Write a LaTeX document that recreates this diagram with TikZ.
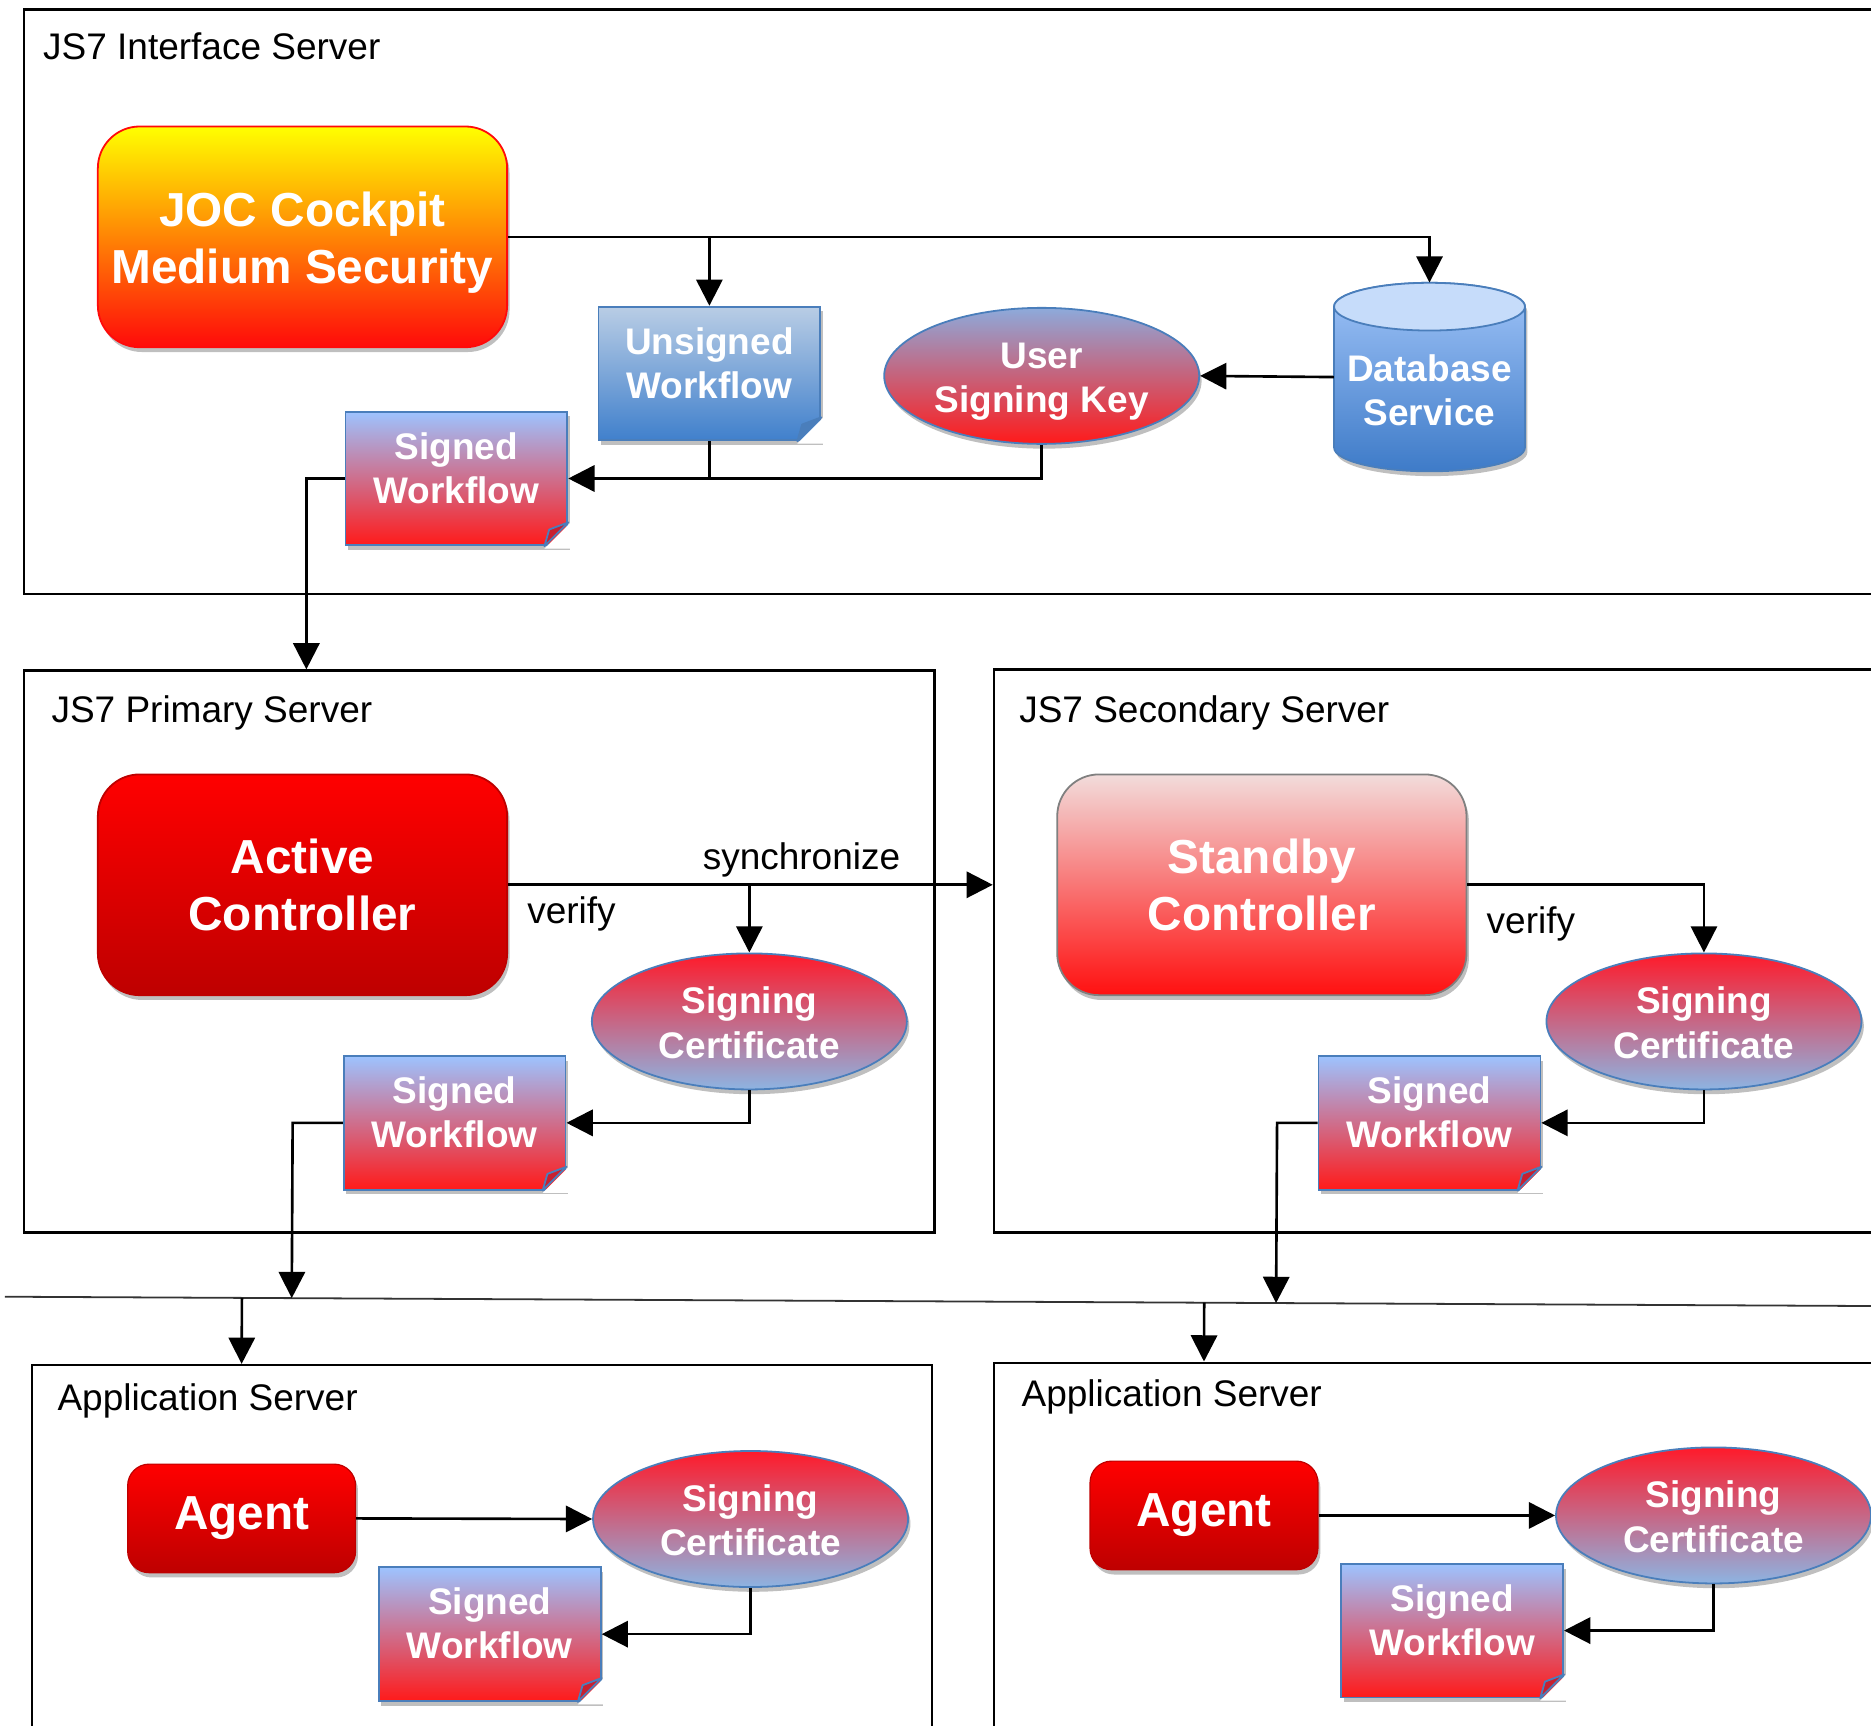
\documentclass[tikz,border=0pt]{standalone}
\usepackage{fontspec}
\setmainfont{Liberation Sans}
\usetikzlibrary{arrows.meta,shapes.geometric,shadows,calc}

\definecolor{jocyellow}{HTML}{FFFF00}
\definecolor{jocmid}{HTML}{FFA800}
\definecolor{jocred}{HTML}{FF0A0A}
\definecolor{ctltop}{HTML}{FF0000}
\definecolor{ctlbot}{HTML}{BE0000}
\definecolor{sbytop}{HTML}{F2DCDB}
\definecolor{sbybot}{HTML}{FF1010}
\definecolor{wftop}{HTML}{9DC3FF}
\definecolor{wfbot}{HTML}{FF1A1A}
\definecolor{uwtop}{HTML}{B9CDE5}
\definecolor{uwbot}{HTML}{4080CC}
\definecolor{usktop}{HTML}{8DAADB}
\definecolor{certred}{HTML}{FF1A2A}
\definecolor{certblue}{HTML}{8DB4E2}
\definecolor{dbtop}{HTML}{A0C4F8}
\definecolor{dbbot}{HTML}{3E7BC8}
\definecolor{dbcap}{HTML}{C6DCFA}
\definecolor{edgeblue}{HTML}{4A7EBB}
\definecolor{foldred}{HTML}{C8202F}

% two centred lines, raised by #1
\newcommand{\twolines}[3][0pt]{\raisebox{#1}[35pt][35pt]{\begin{tabular}{@{}c@{}}#2\\#3\end{tabular}}}
% folded corner of a workflow sheet
\newcommand{\dogear}[2]{%
  \fill[white] ([xshift=-20pt,yshift=-2pt]#1.south east) -- ([xshift=2pt,yshift=-2pt]#1.south east) -- ([xshift=2pt,yshift=20pt]#1.south east) -- cycle;
  \filldraw[fill=#2, draw=edgeblue, line width=1.5pt, line join=round] ([xshift=-20pt]#1.south east) -- ([yshift=20pt]#1.south east) -- ([xshift=-16pt,yshift=14pt]#1.south east) -- cycle;
}

\tikzset{
  arr/.style={line width=2.2pt, -{Triangle[length=22pt,width=22pt]}},
  link/.style={line width=2.2pt},
  srvbox/.style={draw, line width=2pt, anchor=north west, inner sep=0pt},
  lbl/.style={font=\fontsize{31}{37}\selectfont, inner sep=0pt, anchor=base west},
  tag/.style={font=\fontsize{31}{37}\selectfont, inner sep=0pt},
  soft/.style={drop shadow={shadow xshift=2pt, shadow yshift=-4pt, opacity=0.25, fill=black}},
  bigtxt/.style={text=white, font=\bfseries\fontsize{40}{48}\selectfont, align=center},
  smalltxt/.style={text=white, font=\bfseries\fontsize{31}{37}\selectfont},
  ctl/.style={bigtxt, rounded corners=35pt, minimum width=343pt, minimum height=185pt, line width=1.5pt, soft},
  agentbox/.style={bigtxt, rounded corners=18pt, minimum width=191pt, minimum height=91pt, draw=ctlbot, line width=1pt, top color=ctltop, bottom color=ctlbot, soft},
  wf/.style={smalltxt, draw=edgeblue, line width=1.5pt, minimum width=186pt, minimum height=112pt, inner sep=0pt, soft},
  signed/.style={wf, top color=wftop, bottom color=wfbot},
  oval/.style={smalltxt, ellipse, draw=edgeblue, line width=1.5pt, minimum width=264pt, minimum height=114pt, inner sep=0pt, soft},
  cert/.style={oval, top color=certred, bottom color=certblue},
}

\begin{document}
\begin{tikzpicture}[x=1pt,y=-1pt]
  \useasboundingbox (0,0) rectangle (1568,1446);
  \clip (0,0) rectangle (1568,1446);

  % servers
  \node[srvbox, minimum width=1600pt, minimum height=490pt] (ifs) at (19,7) {};
  \node[lbl] (tifs) at (36,49.5) {JS7 Interface Server};
  \node[srvbox, minimum width=763pt, minimum height=471pt] (prim) at (19,561) {};
  \node[lbl] (tprim) at (43,605.5) {JS7 Primary Server};
  \node[srvbox, minimum width=800pt, minimum height=472pt] (sec) at (832,560) {};
  \node[lbl] (tsec) at (854,605.5) {JS7 Secondary Server};
  \node[srvbox, minimum width=754pt, minimum height=400pt] (appL) at (26,1143) {};
  \node[lbl] (tappL) at (48,1182) {Application Server};
  \node[srvbox, minimum width=800pt, minimum height=400pt] (appR) at (832,1141) {};
  \node[lbl] (tappR) at (856,1179) {Application Server};

  % interface server
  \node[ctl, draw=jocred, top color=jocyellow, middle color=jocmid, bottom color=jocred] (joc) at (253.5,198.5) {\twolines[-12pt]{JOC Cockpit}{Medium Security}};
  \node[wf, top color=uwtop, bottom color=uwbot] (unsig) at (594.5,313) {\twolines[-1pt]{Unsigned}{Workflow}};
  \node[oval, top color=usktop, bottom color=wfbot] (usk) at (873,315) {\twolines[-11pt]{User}{Signing Key}};
  \path[top color=dbtop, bottom color=dbbot, draw=edgeblue, line width=1.5pt, soft] (1118,257) -- (1118,375)
    arc[start angle=180, end angle=360, x radius=80pt, y radius=20pt] -- (1278,257)
    arc[start angle=0, end angle=180, x radius=80pt, y radius=20pt] -- cycle;
  \filldraw[fill=dbcap, draw=edgeblue, line width=1.5pt] (1198,257) ellipse[x radius=80pt, y radius=20pt];
  \node[smalltxt, minimum width=160pt, minimum height=158pt, inner sep=0pt] (db) at (1198,316) {\twolines[-21pt]{Database}{Service}};
  \node[signed] (sigA) at (382.5,401) {\twolines[-1pt]{Signed}{Workflow}};
  \dogear{unsig}{edgeblue}
  \dogear{sigA}{foldred}

  % primary and secondary server
  \node[ctl, draw=ctlbot, top color=ctltop, bottom color=ctlbot] (ac) at (253.5,741.5) {Active\\Controller};
  \node[cert] (certA) at (628,856) {\twolines[-11pt]{Signing}{Certificate}};
  \node[signed] (sigB) at (381,941) {\twolines[-1pt]{Signed}{Workflow}};
  \node[ctl, draw=gray, top color=sbytop, bottom color=sbybot] (sc) at (1057.5,741.5) {Standby\\Controller};
  \node[cert] (certB) at (1428,856) {\twolines[-11pt]{Signing}{Certificate}};
  \node[signed] (sigC) at (1198,941) {\twolines[-1pt]{Signed}{Workflow}};
  \dogear{sigB}{foldred}
  \dogear{sigC}{foldred}

  % application servers
  \node[agentbox] (agL) at (202.5,1272.5) {Agent};
  \node[cert] (certL) at (629,1273) {\twolines[-11pt]{Signing}{Certificate}};
  \node[signed] (sigL) at (410.5,1369.5) {\twolines[-1pt]{Signed}{Workflow}};
  \node[agentbox] (agR) at (1009,1270) {Agent};
  \node[cert] (certR) at (1436,1270) {\twolines[-11pt]{Signing}{Certificate}};
  \node[signed] (sigR) at (1217,1366.5) {\twolines[-1pt]{Signed}{Workflow}};
  \dogear{sigL}{foldred}
  \dogear{sigR}{foldred}

  % connectors
  \draw[arr] (joc.east) -| (db.north);
  \draw[arr] (joc.east -| unsig.north) -- (unsig.north);
  \draw[arr] (db.west) -- (usk.east);
  \draw[arr] (unsig.south) |- (sigA.east);
  \draw[link] (usk.south) |- (unsig.south |- sigA.east);
  \draw[arr] (sigA.west) -- ++(-32,0) coordinate (dropA) -- (dropA |- prim.north);

  \draw[arr] (ac.east) -- (ac.east -| sec.west);
  \draw[arr] (ac.east -| certA.north) -- (certA.north);
  \node[tag, anchor=south west] (sync) at ([xshift=163pt,yshift=6pt]ac.east) {synchronize};
  \node[tag, anchor=north west] (vfA) at ([xshift=16pt,yshift=-10pt]ac.east) {verify};
  \draw[arr] (certA.south) |- (sigB.east);
  \draw[arr] (sc.east) -| (certB.north);
  \node[tag, anchor=north west] (vfB) at ([xshift=16pt,yshift=-18pt]sc.east) {verify};
  \draw[arr] (certB.south) |- (sigC.east);

  \coordinate (netL) at (4,1086.7);
  \coordinate (netR) at (1568,1094.5);
  \draw[line width=1.5pt, black!80] (netL) -- (netR);
  \draw[arr] (sigB.west) -- ++(-42,0) coordinate (dropB) -- ($(netL)!(dropB)!(netR)$);
  \draw[arr] (sigC.west) -- ++(-34,0) coordinate (dropC) -- ($(netL)!(dropC)!(netR)$);
  \draw[arr] ($(netL)!(agL.north |- appL.north)!(netR)$) -- (agL.north |- appL.north);
  \draw[arr] ($(netL)!(agR.north |- appR.north)!(netR)$) -- (agR.north |- appR.north);

  \draw[arr] (agL.east) -- (certL.west);
  \draw[arr] (certL.south) |- (sigL.east);
  \draw[arr] (agR.east) -- (certR.west);
  \draw[arr] (certR.south) |- (sigR.east);
\end{tikzpicture}
\end{document}
